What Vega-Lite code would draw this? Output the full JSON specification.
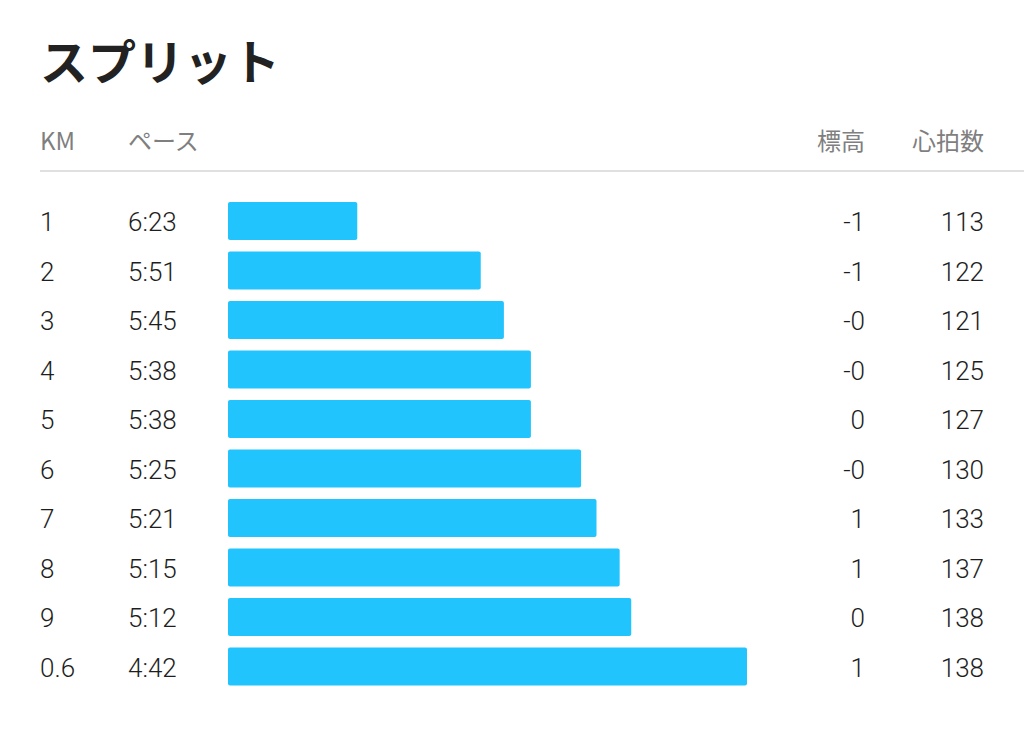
{
  "$schema": "https://vega.github.io/schema/vega-lite/v6.json",
  "width": 1024,
  "height": 739,
  "autosize": "none",
  "padding": 0,
  "background": "white",
  "config": {
    "view": {"stroke": null},
    "text": {"font": "Roboto", "fontSize": 26, "fontWeight": 300, "color": "#1e1e1e", "baseline": "middle", "dy": 2}
  },
  "datasets": {
    "splits": [
      {"km": "1", "pace": "6:23", "pace_s": 383, "elev": "-1", "hr": 113},
      {"km": "2", "pace": "5:51", "pace_s": 351, "elev": "-1", "hr": 122},
      {"km": "3", "pace": "5:45", "pace_s": 345, "elev": "-0", "hr": 121},
      {"km": "4", "pace": "5:38", "pace_s": 338, "elev": "-0", "hr": 125},
      {"km": "5", "pace": "5:38", "pace_s": 338, "elev": "0", "hr": 127},
      {"km": "6", "pace": "5:25", "pace_s": 325, "elev": "-0", "hr": 130},
      {"km": "7", "pace": "5:21", "pace_s": 321, "elev": "1", "hr": 133},
      {"km": "8", "pace": "5:15", "pace_s": 315, "elev": "1", "hr": 137},
      {"km": "9", "pace": "5:12", "pace_s": 312, "elev": "0", "hr": 138},
      {"km": "0.6", "pace": "4:42", "pace_s": 282, "elev": "1", "hr": 138}
    ],
    "header": [
      {"title": "スプリット", "km": "KM", "pace": "ペース", "elev": "標高", "hr": "心拍数"}
    ]
  },
  "layer": [
    {
      "data": {"name": "header"},
      "mark": {"type": "text", "align": "left", "baseline": "alphabetic", "dy": 0, "font": "Noto Sans CJK JP", "fontWeight": "bold", "fontSize": 48, "color": "#222222"},
      "encoding": {"x": {"value": 40}, "y": {"value": 80}, "text": {"field": "title"}}
    },
    {
      "data": {"name": "header"},
      "mark": {"type": "text", "align": "left", "dy": 1, "font": "Noto Sans CJK JP", "fontWeight": "normal", "fontSize": 24, "color": "#7f7f7f"},
      "encoding": {"x": {"value": 40}, "y": {"value": 142}, "text": {"field": "km"}}
    },
    {
      "data": {"name": "header"},
      "mark": {"type": "text", "align": "left", "dy": 1, "font": "Noto Sans CJK JP", "fontWeight": "normal", "fontSize": 24, "color": "#7f7f7f"},
      "encoding": {"x": {"value": 128}, "y": {"value": 142}, "text": {"field": "pace"}}
    },
    {
      "data": {"name": "header"},
      "mark": {"type": "text", "align": "right", "dy": 1, "font": "Noto Sans CJK JP", "fontWeight": "normal", "fontSize": 24, "color": "#7f7f7f"},
      "encoding": {"x": {"value": 865}, "y": {"value": 142}, "text": {"field": "elev"}}
    },
    {
      "data": {"name": "header"},
      "mark": {"type": "text", "align": "right", "dy": 1, "font": "Noto Sans CJK JP", "fontWeight": "normal", "fontSize": 24, "color": "#7f7f7f"},
      "encoding": {"x": {"value": 984}, "y": {"value": 142}, "text": {"field": "hr"}}
    },
    {
      "data": {"name": "header"},
      "mark": {"type": "rule", "color": "#e0e0e0", "strokeWidth": 2},
      "encoding": {"x": {"value": 40}, "x2": {"value": 1024}, "y": {"value": 171}}
    },
    {
      "data": {"name": "splits"},
      "mark": {"type": "bar", "color": "#22c4fe", "cornerRadius": 2},
      "encoding": {
        "y": {
          "field": "km", "type": "ordinal", "axis": null,
          "scale": {"domain": ["1", "2", "3", "4", "5", "6", "7", "8", "9", "0.6"], "range": [196.25, 691.25], "paddingInner": 0.23, "paddingOuter": 0.115}
        },
        "x": {
          "field": "pace_s", "type": "quantitative", "axis": null,
          "scale": {"domain": [416.5, 282], "range": [228, 747], "zero": false, "nice": false}
        },
        "x2": {"datum": 416.5}
      }
    },
    {
      "data": {"name": "splits"},
      "mark": {"type": "text", "align": "left"},
      "encoding": {"x": {"value": 40}, "y": {"field": "km", "type": "ordinal", "axis": null}, "text": {"field": "km"}}
    },
    {
      "data": {"name": "splits"},
      "mark": {"type": "text", "align": "left"},
      "encoding": {"x": {"value": 128}, "y": {"field": "km", "type": "ordinal", "axis": null}, "text": {"field": "pace"}}
    },
    {
      "data": {"name": "splits"},
      "mark": {"type": "text", "align": "right"},
      "encoding": {"x": {"value": 865}, "y": {"field": "km", "type": "ordinal", "axis": null}, "text": {"field": "elev"}}
    },
    {
      "data": {"name": "splits"},
      "mark": {"type": "text", "align": "right"},
      "encoding": {"x": {"value": 984}, "y": {"field": "km", "type": "ordinal", "axis": null}, "text": {"field": "hr"}}
    }
  ]
}
